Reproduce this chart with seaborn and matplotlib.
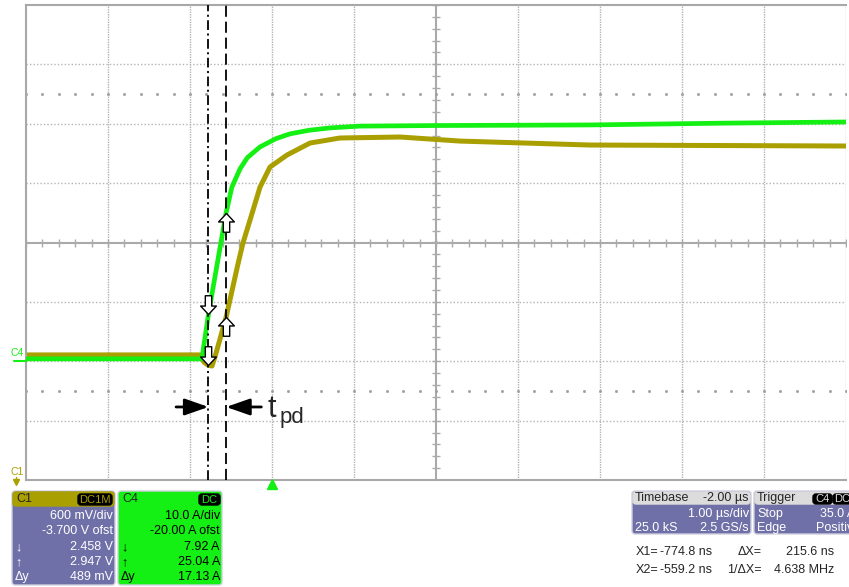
import numpy as np
import pandas as pd
import seaborn as sns
import matplotlib.pyplot as plt
from matplotlib.path import Path
from matplotlib.patches import FancyBboxPatch

# C4 (current probe, green) - time in us, current in A
c4_time = [-3.0, -0.855, -0.775, -0.5592, -0.49, -0.39, -0.30, -0.146, 0.05, 0.22,
           0.45, 0.707, 1.07, 2.0, 3.88, 5.5, 7.0]
c4_amps = [0.4, 0.4, 7.92, 25.04, 29.3, 32.4, 34.3, 36.1, 37.5, 38.3,
           38.9, 39.3, 39.6, 39.7, 39.8, 40.1, 40.3]

# C1 (voltage, olive) - time in us, voltage in V
c1_time = [-3.0, -0.878, -0.829, -0.7748, -0.732, -0.695, -0.5592, -0.415, -0.354, -0.268,
           -0.146, -0.024, 0.183, 0.463, 0.829, 1.561, 2.293, 3.878, 7.0]
c1_volts = [2.564, 2.564, 2.49, 2.458, 2.452, 2.544, 2.947, 3.483, 3.695, 3.927,
            4.26, 4.463, 4.584, 4.705, 4.756, 4.766, 4.725, 4.685, 4.675]

# scope settings (from the info boxes)
c4_scale, c4_offset = 10.0, -20.0
c1_scale, c1_offset = 0.6, -3.7
cursor_t = [-0.7748, -0.5592]
c4_cursor = [7.92, 25.04]
c1_cursor = [2.458, 2.947]

GREEN = '#14F014'
OLIVE = '#AA9F00'
PURPLE = '#7070A8'
GRID = '#B4B4B4'

sns.set_style('white')
plt.rcParams['font.family'] = ['Liberation Sans', 'DejaVu Sans']
plt.rcParams['lines.scale_dashes'] = False

W, H = 849, 587
fig = plt.figure(figsize=(W / 100, H / 100), dpi=100)
ax = fig.add_axes([26 / W, 1 - 480 / H, 820 / W, 475 / H])
ax.set_xlim(-3, 7)
ax.set_ylim(-4, 4)
ax.set_xticks([])
ax.set_yticks([])
for s in ['left', 'top', 'bottom']:
    ax.spines[s].set_color('#A8A8A8')
    ax.spines[s].set_linewidth(1.5)
ax.spines['right'].set_visible(False)

# graticule
for gx in range(-2, 8):
    if gx != 2:
        ax.axvline(gx, color=GRID, lw=1, ls=(0, (1, 0.8)), zorder=0)
for gy in range(-3, 4):
    if gy != 0:
        ax.axhline(gy, color=GRID, lw=1, ls=(0, (1, 1.5)), zorder=0)
ax.axvline(2, color='#AAAAAA', lw=1.5, zorder=0)
ax.axhline(0, color='#AAAAAA', lw=1.5, zorder=0)
ticks_x = np.arange(-3, 7.01, 0.2)
ticks_y = np.arange(-4, 4.01, 0.2)
ax.plot(ticks_x, np.zeros_like(ticks_x), ls='none', marker='|', ms=6, mew=1, color='#AAAAAA', zorder=0)
ax.plot(np.full_like(ticks_y, 2), ticks_y, ls='none', marker='_', ms=6, mew=1, color='#AAAAAA', zorder=0)
for ry in [2.5, -2.5]:
    ax.plot(ticks_x, np.full_like(ticks_x, ry), ls='none', marker='s', ms=1, color='#A0A0A0', zorder=0)

# traces
c1_df = pd.DataFrame({'t': c1_time, 'div': (np.array(c1_volts) + c1_offset) / c1_scale})
c4_df = pd.DataFrame({'t': c4_time, 'div': (np.array(c4_amps) + c4_offset) / c4_scale})
sns.lineplot(data=c1_df, x='t', y='div', color=OLIVE, lw=3.6, sort=False, estimator=None, ax=ax, zorder=2)
sns.lineplot(data=c4_df, x='t', y='div', color=GREEN, lw=3.4, sort=False, estimator=None, ax=ax, zorder=3)
ax.set_xlabel('')
ax.set_ylabel('')

# cursors
ax.axvline(cursor_t[0], color='black', lw=1.3, ls=(0, (7, 2.5, 1.5, 2.5)), zorder=4)
ax.axvline(cursor_t[1], color='black', lw=1.3, ls=(0, (8, 3.5)), zorder=4)

down = Path([(0, 0), (0.42, 0.45), (0.17, 0.45), (0.17, 1), (-0.17, 1), (-0.17, 0.45), (-0.42, 0.45), (0, 0)],
            [Path.MOVETO] + [Path.LINETO] * 6 + [Path.CLOSEPOLY])
up = Path(down.vertices * [1, -1], down.codes)
c4_div = (np.array(c4_cursor) + c4_offset) / c4_scale
c1_div = (np.array(c1_cursor) + c1_offset) / c1_scale
for val, mk in [(c4_div[0], down), (c1_div[0], down)]:
    ax.plot([cursor_t[0]], [val], marker=mk, ms=27, mfc='white', mec='black', mew=1, zorder=5)
for val, mk in [(c4_div[1], up), (c1_div[1], up)]:
    ax.plot([cursor_t[1]], [val], marker=mk, ms=27, mfc='white', mec='black', mew=1, zorder=5)

# t_pd arrows
ya = -2.77
arr = dict(arrowstyle='-|>,head_length=0.8,head_width=0.28', color='black', lw=2, mutation_scale=18,
           shrinkA=0, shrinkB=0)
ax.annotate('', xy=(cursor_t[0], ya), xytext=(-1.17, ya), arrowprops=arr, zorder=6)
ax.annotate('', xy=(cursor_t[1], ya), xytext=(-0.13, ya), arrowprops=arr, zorder=6)

# overlay in pixel coordinates for labels and info boxes
ov = fig.add_axes([0, 0, 1, 1], zorder=10)
ov.set_xlim(0, W)
ov.set_ylim(H, 0)
ov.axis('off')

ov.text(268, 417, 't', fontsize=22, va='baseline', ha='left')
ov.text(280, 423, 'pd', fontsize=16, va='baseline', ha='left')

# channel markers
ov.text(11, 353, 'C4', color=GREEN, fontsize=7.5, va='center', ha='left')
ov.plot([14, 26], [361, 361], color=GREEN, lw=1.5)
ov.text(11, 472, 'C1', color=OLIVE, fontsize=7.5, va='center', ha='left')
ov.plot([16], [482], marker='v', ms=5, color=OLIVE)
ov.plot([16, 16], [477, 481], color=OLIVE, lw=1)
ov.plot([272], [484], marker='^', ms=7, color=GREEN)


def box(x0, y0, x1, y1, fc, ec='#D0D0E0'):
    ov.add_patch(FancyBboxPatch((x0, y0), x1 - x0, y1 - y0, boxstyle='round,pad=0,rounding_size=3',
                                fc=fc, ec=ec, lw=1))


def badge(x0, x1, y0, y1, label, tc):
    box(x0, y0, x1, y1, 'black', ec='black')
    ov.text((x0 + x1) / 2, (y0 + y1) / 2 + 0.5, label, color=tc, fontsize=8, ha='center', va='center')


fs = 9
rows = [516, 531, 547, 562, 577]

# C1 box
box(12, 491, 115, 585, PURPLE)
box(13, 492, 114, 506, OLIVE, ec=OLIVE)
ov.text(16, 499, 'C1', fontsize=fs, va='center')
badge(78, 112, 494, 505, 'DC1M', OLIVE)
c1_lines = ['600 mV/div', '-3.700 V ofst', '2.458 V', '2.947 V', '489 mV']
for y, s in zip(rows, c1_lines):
    ov.text(113, y, s, color='white', fontsize=fs, ha='right', va='center')
for y, s in zip(rows[2:], ['↓', '↑', 'Δy']):
    ov.text(15, y, s, color='white', fontsize=fs, ha='left', va='center')

# C4 box
box(118, 491, 222, 585, GREEN)
ov.text(122, 499, 'C4', fontsize=fs, va='center')
badge(199, 220, 494, 505, 'DC', GREEN)
c4_lines = ['10.0 A/div', '-20.00 A ofst', '7.92 A', '25.04 A', '17.13 A']
for y, s in zip(rows, c4_lines):
    ov.text(220, y, s, color='black', fontsize=fs, ha='right', va='center')
for y, s in zip(rows[2:], ['↓', '↑', 'Δy']):
    ov.text(121, y, s, color='black', fontsize=fs, ha='left', va='center')

# timebase box
box(632, 491, 751, 534, PURPLE)
box(633, 492, 750, 504, '#DCDCDC', ec='#DCDCDC')
ov.text(635, 498, 'Timebase', fontsize=fs, va='center')
ov.text(749, 498, '-2.00 µs', fontsize=fs, va='center', ha='right')
ov.text(749, 514, '1.00 µs/div', color='white', fontsize=fs, va='center', ha='right')
ov.text(635, 528, '25.0 kS', color='white', fontsize=fs, va='center')
ov.text(749, 528, '2.5 GS/s', color='white', fontsize=fs, va='center', ha='right')

# trigger box (cut off at right edge, as on the scope screenshot)
box(754, 491, 870, 534, PURPLE)
box(755, 492, 869, 504, '#DCDCDC', ec='#DCDCDC')
ov.text(757, 498, 'Trigger', fontsize=fs, va='center')
badge(813, 832, 494, 504, 'C4', '#DDDDDD')
badge(833, 852, 494, 504, 'DC', '#DDDDDD')
ov.text(757, 514, 'Stop', color='white', fontsize=fs, va='center')
ov.text(855, 514, '35.0 A', color='white', fontsize=fs, va='center', ha='right')
ov.text(757, 528, 'Edge', color='white', fontsize=fs, va='center')
ov.text(860, 528, 'Positive', color='white', fontsize=fs, va='center', ha='right')

# cursor readouts
ov.text(636, 552, 'X1=', fontsize=fs, va='center')
ov.text(712, 552, '-774.8 ns', fontsize=fs, va='center', ha='right')
ov.text(762, 552, 'ΔX=', fontsize=fs, va='center', ha='right')
ov.text(834, 552, '215.6 ns', fontsize=fs, va='center', ha='right')
ov.text(636, 570, 'X2=', fontsize=fs, va='center')
ov.text(712, 570, '-559.2 ns', fontsize=fs, va='center', ha='right')
ov.text(762, 570, '1/ΔX=', fontsize=fs, va='center', ha='right')
ov.text(834, 570, '4.638 MHz', fontsize=fs, va='center', ha='right')

fig.savefig('out.png', dpi=100)
